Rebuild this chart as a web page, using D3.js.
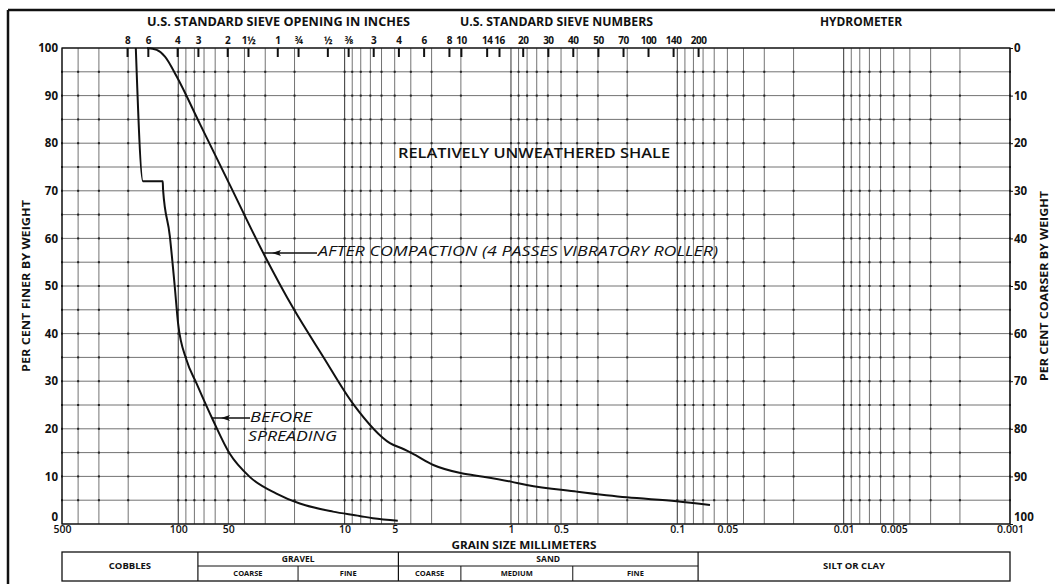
<!DOCTYPE html>
<html>
<head>
<meta charset="utf-8">
<script src="https://cdn.jsdelivr.net/npm/d3@7/dist/d3.min.js"></script>
<style>
  html,body{margin:0;padding:0;background:#fff;}
  svg{display:block;}
  text{font-family:"Open Sans","DejaVu Sans",sans-serif;fill:#111;}
</style>
</head>
<body>
<svg id="chart" width="1055" height="584"></svg>
<script>
// ---------- DATA ----------
const pctTicks = [0,10,20,30,40,50,60,70,80,90,100];
const pctGrid = [0,5,10,15,20,25,30,35,40,45,50,55,60,65,70,75,80,85,90,95,100];
const mmTickLabels = [500,100,50,10,5,1,0.5,0.1,0.05,0.01,0.005,0.001];
const mmTickText = ["500","100","50","10","5","1","0.5","0.1","0.05","0.01","0.005","0.001"];

const inchSieveLabels = ["8","6","4","3","2","1½","1","¾","½","⅜"];
const inchSieveMM     = [203.2,152.4,101.6,76.2,50.8,38.1,25.4,19.05,12.7,9.525];
const numSieveLabels  = ["3","4","6","8","10","14","16","20","30","40","50","70","100","140","200"];
const numSieveMM      = [6.73,4.75,3.35,2.36,2.0,1.4,1.18,0.85,0.6,0.425,0.3,0.212,0.15,0.106,0.075];

const afterSize = [154,134.8,120.2,102.2,74.0,48.9,30.8,20.35,13.43,8.87,5.34,4.4,3.95,2.93,1.98,1.467,1.0,0.804,0.402,0.2014,0.1009,0.0636];
const afterPct  = [100,99.6,98.2,94.0,84.0,71.2,56.9,45.3,35.1,25.2,17.0,15.7,14.9,12.4,10.65,9.94,8.9,8.2,6.8,5.6,4.8,4.0];

const beforeSize = [180,163,124,123.4,112.5,105,100.3,89.3,77.8,61.8,49.1,37.2,25.7,18.6,11.75,8.13,6.76,4.79];
const beforePct  = [100,72,72,70.2,60.6,49.9,42.2,34.5,29.6,21.8,14.8,9.9,6.4,4.3,2.6,1.7,1.2,0.7];

const mainClassNames  = ["COBBLES","GRAVEL","SAND","SILT OR CLAY"];
const mainClassBounds = [500,76.2,4.75,0.075,0.001];
const subClassNames   = ["COARSE","FINE","COARSE","MEDIUM","FINE"];
const subClassFrom    = [76.2,19.05,4.75,2.0,0.425];
const subClassTo      = [19.05,4.75,2.0,0.425,0.075];

// ---------- SCALES ----------
const svg = d3.select("#chart");
const L = 62, R = 1010, T = 48, B = 524;
const x = d3.scaleLog().domain([500,0.001]).range([L,R]);
const y = d3.scaleLinear().domain([0,100]).range([B,T]);

const vGrid = [];
for (let e=-3;e<=2;e++){ for(let k=1;k<=9;k++){ const v=k*Math.pow(10,e); if(v>=0.001-1e-12 && v<=500+1e-9) vGrid.push(v);} }

// outer frame
svg.append("line").attr("x1",8).attr("x2",1055).attr("y1",10).attr("y2",10).attr("stroke","#111").attr("stroke-width",2.5);
svg.append("line").attr("x1",8).attr("x2",8).attr("y1",10).attr("y2",584).attr("stroke","#111").attr("stroke-width",2.5);

const g = svg.append("g");
g.selectAll("line.h").data(pctGrid).enter().append("line")
  .attr("x1",L).attr("x2",R).attr("y1",d=>y(d)).attr("y2",d=>y(d))
  .attr("stroke","#444").attr("stroke-width",0.75);
g.selectAll("line.v").data(vGrid).enter().append("line")
  .attr("x1",d=>x(d)).attr("x2",d=>x(d)).attr("y1",T).attr("y2",B)
  .attr("stroke","#444").attr("stroke-width",d=>{const l=Math.log10(d);return Math.abs(l-Math.round(l))<1e-9?1.1:0.75;});
const dots=[];
vGrid.forEach(v=>pctGrid.forEach(p=>{ if(p>0&&p<100) dots.push([v,p]); }));
g.selectAll("rect.dot").data(dots).enter().append("rect")
  .attr("x",d=>x(d[0])-1).attr("y",d=>y(d[1])-1).attr("width",2).attr("height",2).attr("fill","#222");
g.append("rect").attr("x",L).attr("y",T).attr("width",R-L).attr("height",B-T)
  .attr("fill","none").attr("stroke","#111").attr("stroke-width",1.3);

// ---------- AXES ----------
const axFont = (sel,size,w)=>sel.selectAll("text").style("font-size",size+"px").style("font-weight",w||"700").attr("fill","#111");

const left = svg.append("g").attr("transform",`translate(${L},0)`)
  .call(d3.axisLeft(y).tickValues(pctTicks).tickSize(0).tickPadding(4));
left.select(".domain").remove(); axFont(left,11.5);
left.selectAll(".tick").filter(d=>d===0).select("text").attr("dy","-0.3em");

const right = svg.append("g").attr("transform",`translate(${R},0)`)
  .call(d3.axisRight(y).tickValues(pctTicks).tickSize(3).tickPadding(1).tickFormat(d=>String(100-d)));
right.select(".domain").remove(); right.selectAll("line").attr("stroke","#111"); axFont(right,11.5);
right.selectAll(".tick").filter(d=>d===0).select("text").attr("dy","-0.3em");

const bottom = svg.append("g").attr("transform",`translate(0,${B})`)
  .call(d3.axisBottom(x).tickValues(mmTickLabels).tickSize(0).tickPadding(2).tickFormat((d,i)=>mmTickText[i]));
bottom.select(".domain").remove(); axFont(bottom,10.5,"600");

function sieveAxis(vals,labels){
  const a = svg.append("g").attr("transform",`translate(0,${T})`)
    .call(d3.axisTop(x).tickValues(vals).tickSize(-9).tickPadding(12).tickFormat((d,i)=>labels[i]));
  a.select(".domain").remove();
  a.selectAll("line").attr("stroke","#111").attr("stroke-width",2);
  axFont(a,10);
  a.selectAll("text").attr("y",-4).attr("dy","0").style("letter-spacing","-0.5px");
  return a;
}
sieveAxis(inchSieveMM,inchSieveLabels);
sieveAxis(numSieveMM,numSieveLabels);

function label(txt,xp,yp,size,opts={}){
  const t=svg.append("text").attr("x",xp).attr("y",yp).attr("text-anchor",opts.anchor||"middle")
    .attr("dominant-baseline","middle").style("font-size",size+"px")
    .style("font-weight",opts.weight||"700").text(txt);
  if(opts.italic) t.style("font-style","italic");
  if(opts.len) t.attr("textLength",opts.len).attr("lengthAdjust","spacingAndGlyphs");
  if(opts.rotate) t.attr("transform",`rotate(${opts.rotate},${xp},${yp})`);
  return t;
}
label("U.S. STANDARD SIEVE OPENING IN INCHES",(147+410)/2,23,12,{len:263});
label("U.S. STANDARD SIEVE NUMBERS",(460+653)/2,23,12,{len:193});
label("HYDROMETER",861,23,12,{len:82});
label("GRAIN SIZE MILLIMETERS",524,546.5,10.5,{len:145});
label("PER CENT FINER BY WEIGHT",27,286,10.5,{rotate:-90,len:172});
label("PER CENT COARSER BY WEIGHT",1045,286,10.5,{rotate:-90,len:190});
label("RELATIVELY UNWEATHERED SHALE",534,154,14,{weight:"600",len:272});

// ---------- CURVES ----------
const line = d3.line().x(d=>x(d[0])).y(d=>y(d[1])).curve(d3.curveMonotoneX);
const afterData = afterSize.map((s,i)=>[s,afterPct[i]]);
const beforeData = beforeSize.map((s,i)=>[s,beforePct[i]]);
svg.append("path").attr("d",line(afterData)).attr("fill","none").attr("stroke","#111").attr("stroke-width",2);
svg.append("path").attr("d",line(beforeData)).attr("fill","none").attr("stroke","#111").attr("stroke-width",2);

function arrow(x0,x1,yy){
  svg.append("line").attr("x1",x0).attr("x2",x1).attr("y1",yy).attr("y2",yy).attr("stroke","#111").attr("stroke-width",1.6);
  const hx=x0+9;
  svg.append("path").attr("d",`M${hx},${yy} L${hx+9},${yy-3} L${hx+7},${yy} L${hx+9},${yy+3} Z`).attr("fill","#111");
}
arrow(263,317,253);
label("AFTER COMPACTION (4 PASSES VIBRATORY ROLLER)",318,252,14,{anchor:"start",weight:"400",italic:true,len:400});
arrow(212,250,418);
label("BEFORE",250,418,14,{anchor:"start",weight:"400",italic:true,len:62});
label("SPREADING",248,437,14,{anchor:"start",weight:"400",italic:true,len:89});

// ---------- CLASSIFICATION TABLE ----------
const tT=552, tM=566, tB=581;
const tab = svg.append("g");
tab.append("rect").attr("x",L).attr("y",tT).attr("width",R-L).attr("height",tB-tT).attr("fill","none").attr("stroke","#111").attr("stroke-width",1.3);
mainClassBounds.slice(1,-1).forEach(b=>{
  tab.append("line").attr("x1",x(b)).attr("x2",x(b)).attr("y1",tT).attr("y2",tB).attr("stroke","#111").attr("stroke-width",1.2);
});
tab.append("line").attr("x1",x(76.2)).attr("x2",x(0.075)).attr("y1",tM).attr("y2",tM).attr("stroke","#111").attr("stroke-width",1);
[19.05,2.0,0.425].forEach(b=>{
  tab.append("line").attr("x1",x(b)).attr("x2",x(b)).attr("y1",tM).attr("y2",tB).attr("stroke","#111").attr("stroke-width",1);
});
mainClassNames.forEach((n,i)=>{
  const cx=(x(mainClassBounds[i])+x(mainClassBounds[i+1]))/2;
  const sub = (n==="GRAVEL"||n==="SAND");
  label(n,cx,sub?559.5:566.5,sub?8.5:9.5,{});
});
subClassNames.forEach((n,i)=>{
  const cx=(x(subClassFrom[i])+x(subClassTo[i]))/2;
  label(n,cx,574,7.5,{});
});
</script>
</body>
</html>
